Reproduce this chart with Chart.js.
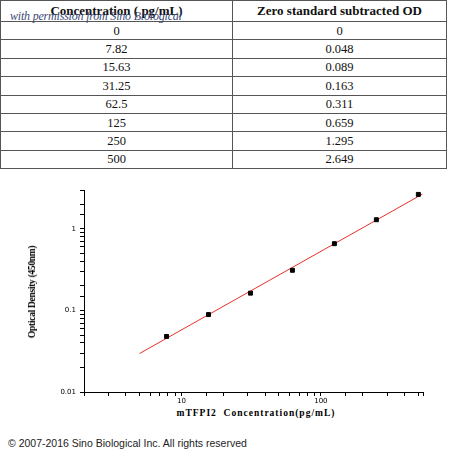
<!DOCTYPE html>
<html>
<head>
<meta charset="utf-8">
<script src="https://cdn.jsdelivr.net/npm/chart.js@4"></script>
<style>
  body { margin: 0; width: 450px; height: 453px; background: #fff; position: relative; overflow: hidden; }
  table { position: absolute; left: 0; top: 0; width: 447px; border-collapse: collapse;
    font-family: "Liberation Serif", serif; font-size: 12.5px; color: #111; }
  td, th { border: 1px solid #555; text-align: center; padding: 0; height: 17.4px; line-height: 16px; }
  th { height: 20px; font-weight: bold; font-size: 13px; }
  td:first-child, th:first-child { width: 231px; }
  #wm { position: absolute; left: 10px; top: 9px; font-family: "Liberation Serif", serif; font-style: italic;
    font-size: 12px; color: #3c4a78; letter-spacing: -0.2px; }
  #wrap { position: absolute; left: 0; top: 180px; width: 450px; height: 225px; }
  #ytitle { position: absolute; left: 32px; top: 292px; transform: translate(-50%,-50%) rotate(-90deg);
    font-family: "Liberation Serif", serif; font-weight: bold; font-size: 9.5px; white-space: nowrap; letter-spacing: -0.3px; }
  #xtitle { position: absolute; left: 256px; top: 408px; transform: translateX(-50%);
    font-family: "Liberation Serif", serif; font-weight: bold; font-size: 9.5px; white-space: nowrap; letter-spacing: 1px; }
  #foot { position: absolute; left: 8px; top: 437px; font-family: "Liberation Sans", Arial, sans-serif; font-size: 10.5px; color: #222; }
</style>
</head>
<body>
<table id="tbl"></table>
<div id="wm">with permission from Sino Biological</div>
<div id="wrap"><canvas id="c"></canvas></div>
<div id="ytitle">Optical Density (450nm)</div>
<div id="xtitle">mTFPI2&nbsp; Concentration(pg/mL)</div>
<div id="foot">© 2007-2016 Sino Biological Inc. All rights reserved</div>
<script>
const headers = ["Concentration ( pg/mL)", "Zero standard subtracted OD"];
const concLabels = ["0", "7.82", "15.63", "31.25", "62.5", "125", "250", "500"];
const odLabels = ["0", "0.048", "0.089", "0.163", "0.311", "0.659", "1.295", "2.649"];
const concentrations = [7.82, 15.63, 31.25, 62.5, 125, 250, 500];
const odValues = [0.048, 0.089, 0.163, 0.311, 0.659, 1.295, 2.649];
const fitX = [5, 535];
const fitY = [0.0296, 2.67];

const tbl = document.getElementById("tbl");
let html = "<tr><th>" + headers[0] + "</th><th>" + headers[1] + "</th></tr>";
concLabels.forEach((c, i) => { html += "<tr><td>" + c + "</td><td>" + odLabels[i] + "</td></tr>"; });
tbl.innerHTML = html;

const isPow10 = v => Math.abs(Math.log10(v) - Math.round(Math.log10(v))) < 1e-6;

new Chart(document.getElementById("c"), {
  type: "scatter",
  data: {
    datasets: [
      { data: concentrations.map((x, i) => ({ x, y: odValues[i] })), pointStyle: "rect",
        pointRadius: 2.8, backgroundColor: "#000", borderColor: "#000", order: 1 },
      { type: "line", data: fitX.map((x, i) => ({ x, y: fitY[i] })), borderColor: "#e8302c",
        borderWidth: 1, pointRadius: 0, order: 2 }
    ]
  },
  options: {
    responsive: true, maintainAspectRatio: false, animation: false,
    layout: { padding: { top: 10, right: 27, left: 0, bottom: 0 } },
    plugins: { legend: { display: false }, tooltip: { enabled: false } },
    scales: {
      x: {
        type: "logarithmic", min: 2, max: 540,
        border: { color: "#000", width: 1 },
        grid: { drawOnChartArea: false, tickLength: 4, color: "#000" },
        ticks: { autoSkip: false, maxRotation: 0, color: "#000", font: { size: 7, family: "DejaVu Sans" }, padding: 1,
          callback: v => isPow10(v) ? String(v) : "" },
        afterFit: s => { s.height = 13; }
      },
      y: {
        type: "logarithmic", min: 0.01, max: 3,
        border: { color: "#000", width: 1 },
        grid: { drawOnChartArea: false, tickLength: 4, color: "#000" },
        ticks: { autoSkip: false, color: "#000", font: { size: 7, family: "DejaVu Sans" }, padding: 4,
          callback: v => isPow10(v) ? String(+v.toPrecision(1)) : "" },
        afterFit: s => { s.width = 84; }
      }
    }
  }
});
</script>
</body>
</html>
